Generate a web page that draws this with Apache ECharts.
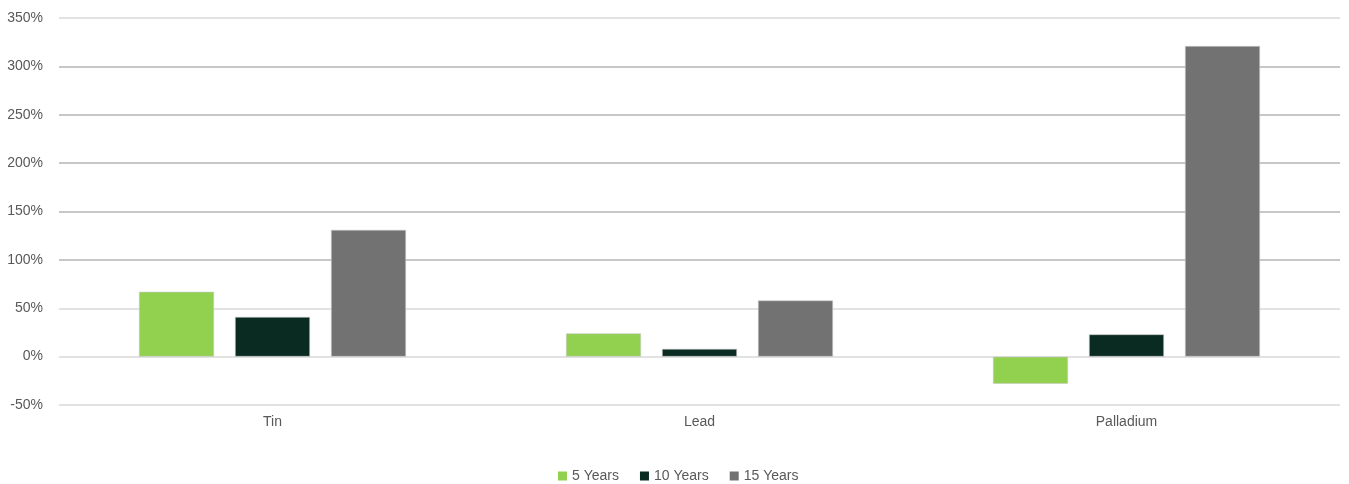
<!DOCTYPE html>
<html>
<head>
<meta charset="utf-8">
<script src="https://cdn.jsdelivr.net/npm/echarts@6/dist/echarts.min.js"></script>
<style>
  html, body { margin: 0; padding: 0; background: #ffffff; }
  #chart { width: 1349px; height: 484px; }
</style>
</head>
<body>
<div id="chart"></div>
<script>
// Metal price returns over three horizons (%)
const categories = ['Tin', 'Lead', 'Palladium'];
const seriesNames = ['5 Years', '10 Years', '15 Years'];
const years5 = [67, 24, -28];
const years10 = [41, 8, 23];
const years15 = [131, 58, 321];
const yTicks = { min: -50, max: 350, step: 50 };

const colors = ['#92d050', '#092b22', '#727272'];
const font = '"Liberation Sans", Arial, sans-serif';

const chart = echarts.init(document.getElementById('chart'), null, { renderer: 'canvas' });

const values = [years5, years10, years15];

chart.setOption({
  animation: false,
  backgroundColor: '#ffffff',
  grid: { left: 59, right: 9, top: 18, bottom: 79, containLabel: false },
  legend: {
    top: 464,
    left: 553,
    itemWidth: 9,
    itemHeight: 9,
    itemGap: 21,
    icon: 'rect',
    itemStyle: { borderWidth: 0 },
    textStyle: { color: '#595959', fontFamily: font, fontSize: 14 },
    data: seriesNames
  },
  xAxis: {
    type: 'category',
    data: categories,
    axisLine: { show: false },
    axisTick: { show: false },
    axisLabel: { color: '#595959', fontFamily: font, fontSize: 14, margin: 10 }
  },
  yAxis: {
    type: 'value',
    min: yTicks.min,
    max: yTicks.max,
    interval: yTicks.step,
    axisLine: { show: false },
    axisTick: { show: false },
    axisLabel: {
      color: '#595959', fontFamily: font, fontSize: 14, margin: 16,
      formatter: v => v + '%'
    },
    splitLine: {
      lineStyle: {
        width: 1.5,
        color: ['#d9d9d9', '#d9d9d9', '#d9d9d9', '#b4b4b4', '#b4b4b4', '#b4b4b4', '#b4b4b4', '#b4b4b4', '#d9d9d9']
      }
    }
  },
  series: seriesNames.map((name, i) => ({
    name: name,
    type: 'bar',
    data: values[i],
    barWidth: 75,
    barGap: '28%',
    itemStyle: { color: colors[i], borderColor: '#c8c8c8', borderWidth: 0.6 }
  }))
});
</script>
</body>
</html>
